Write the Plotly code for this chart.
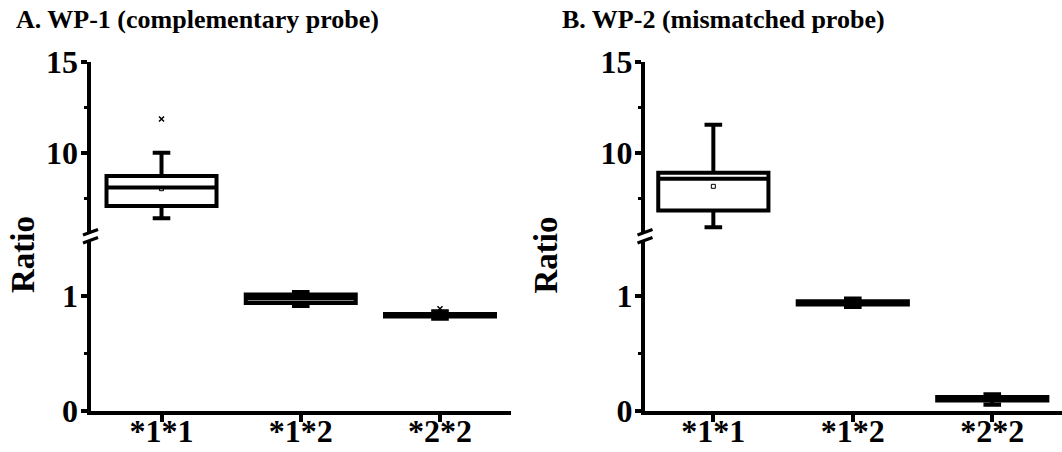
import plotly.graph_objects as go

W, H = 1062, 452

CATS = ["*1*1", "*1*2", "*2*2"]

# Panel A: WP-1 (complementary probe)
A_LO = [6.39, 0.913, 0.802]
A_Q1 = [7.07, 0.939, 0.821]
A_MED = [8.09, 0.978, 0.832]
A_Q3 = [8.72, 1.013, 0.843]
A_HI = [10.0, 1.035, 0.866]
A_MEAN_X = ["*1*1"]
A_MEAN_Y = [8.02]
A_OUT_X = ["*1*1", "*2*2"]
A_OUT_Y = [11.85, 0.889]

# Panel B: WP-2 (mismatched probe)
B_LO = [5.90, 0.904, 0.051]
B_Q1 = [6.82, 0.925, 0.087]
B_MED = [8.57, 0.940, 0.103]
B_Q3 = [8.90, 0.955, 0.118]
B_HI = [11.54, 0.978, 0.141]
B_MEAN_X = ["*1*1"]
B_MEAN_Y = [8.15]

LOWER_RANGE = [0, 1.524]
UPPER_RANGE = [5.42, 15]
LOWER_TICKS = [0, 1]
LOWER_MINOR = [0.5]
UPPER_TICKS = [10, 15]
UPPER_MINOR = [7.5, 12.5]

TITLES = ["A. WP-1 (complementary probe)", "B. WP-2 (mismatched probe)"]

FONT = "Liberation Serif, Times New Roman, serif"


def px_x(p):
    return p / W


def px_y(p):
    return 1 - p / H


fig = go.Figure()

panels = [
    dict(x="x", ylo="y", yhi="y2", lo=A_LO, q1=A_Q1, med=A_MED, q3=A_Q3, hi=A_HI,
         mx=A_MEAN_X, my=A_MEAN_Y, ox=A_OUT_X, oy=A_OUT_Y),
    dict(x="x2", ylo="y3", yhi="y4", lo=B_LO, q1=B_Q1, med=B_MED, q3=B_Q3, hi=B_HI,
         mx=B_MEAN_X, my=B_MEAN_Y, ox=[], oy=[]),
]

for p in panels:
    for i, c in enumerate(CATS):
        ya = p["yhi"] if p["med"][i] > LOWER_RANGE[1] else p["ylo"]
        fig.add_trace(go.Box(
            x=[c], q1=[p["q1"][i]], median=[p["med"][i]], q3=[p["q3"][i]],
            lowerfence=[p["lo"][i]], upperfence=[p["hi"][i]],
            xaxis=p["x"], yaxis=ya, width=0.79, whiskerwidth=0.16,
            fillcolor="rgba(255,255,255,0)", line=dict(color="black", width=4),
            boxpoints=False, showlegend=False, hoverinfo="skip",
        ))
    for xv, yv in zip(p["mx"], p["my"]):
        ya = p["yhi"] if yv > LOWER_RANGE[1] else p["ylo"]
        fig.add_trace(go.Scatter(
            x=[xv], y=[yv], xaxis=p["x"], yaxis=ya, mode="markers",
            marker=dict(symbol="square-open", size=4, color="black", line=dict(width=1)),
            showlegend=False, hoverinfo="skip"))
    for xv, yv in zip(p["ox"], p["oy"]):
        ya = p["yhi"] if yv > LOWER_RANGE[1] else p["ylo"]
        fig.add_trace(go.Scatter(
            x=[xv], y=[yv], xaxis=p["x"], yaxis=ya, mode="markers",
            marker=dict(symbol="x-thin-open", size=5, color="black", line=dict(width=1.5, color="black")),
            showlegend=False, hoverinfo="skip"))

tickfont = dict(family=FONT, size=32, color="black", weight="bold")

common_x = dict(type="category", categoryorder="array", categoryarray=CATS,
                showline=True, linewidth=4, linecolor="black", ticks="outside",
                ticklen=7, tickwidth=4, tickcolor="black", tickfont=tickfont,
                ticklabelstandoff=-18,
                showgrid=False, zeroline=False, fixedrange=True, automargin=False)
common_y = dict(showline=True, linewidth=4, linecolor="black", ticks="outside",
                ticklen=6, tickwidth=4, tickcolor="black", tickfont=tickfont,
                ticklabelstandoff=-4,
                showgrid=False, zeroline=False, fixedrange=True, automargin=False)

Y_TOP, Y_BRK, Y_BOT = 61.7, 236.0, 410.5
AX_A, AX_A_END = 90.5, 511.0
AX_B, AX_B_END = 645.0, 1062.0

def yax(rng, ticks, minor, dom, anchor):
    d = dict(common_y)
    d.update(range=rng, tickvals=ticks, ticktext=[str(t) for t in ticks],
             minor=dict(tickvals=minor, ticks="outside", ticklen=3, tickwidth=3, tickcolor="black"),
             domain=dom, anchor=anchor)
    return d

fig.update_layout(
    template="none",
    width=W, height=H, autosize=False,
    margin=dict(l=0, r=0, t=0, b=0, pad=0),
    paper_bgcolor="white", plot_bgcolor="rgba(0,0,0,0)",
    showlegend=False,
    xaxis=dict(common_x, domain=[px_x(AX_A), px_x(AX_A_END)], range=[-0.51, 2.51], anchor="y"),
    xaxis2=dict(common_x, domain=[px_x(AX_B), 1.0], range=[-0.49, 2.5], anchor="y3"),
    yaxis=yax(LOWER_RANGE, LOWER_TICKS, LOWER_MINOR, [px_y(Y_BOT), px_y(Y_BRK)], "x"),
    yaxis2=yax(UPPER_RANGE, UPPER_TICKS, UPPER_MINOR, [px_y(Y_BRK), px_y(Y_TOP)], "x"),
    yaxis3=yax(LOWER_RANGE, LOWER_TICKS, LOWER_MINOR, [px_y(Y_BOT), px_y(Y_BRK)], "x2"),
    yaxis4=yax(UPPER_RANGE, UPPER_TICKS, UPPER_MINOR, [px_y(Y_BRK), px_y(Y_TOP)], "x2"),
)

# titles and axis labels
for tx, t in zip([14, 560], TITLES):
    fig.add_annotation(text=t, x=px_x(tx), y=px_y(19), xref="paper", yref="paper",
                       xanchor="left", yanchor="middle", showarrow=False,
                       font=dict(family=FONT, size=26, color="black", weight="bold"))
for rx in [23, 545.5]:
    fig.add_annotation(text="Ratio", x=px_x(rx), y=px_y(255), xref="paper", yref="paper",
                       xanchor="center", yanchor="middle", textangle=-90, showarrow=False,
                       font=dict(family=FONT, size=33, color="black", weight="bold"))

# axis break marks
def brk(ax):
    shapes = []
    l1 = [(ax - 7.5, 235.0), (ax + 7.5, 229.5)]
    l2 = [(ax - 7.5, 243.0), (ax + 7.5, 237.5)]
    poly = "M {} {} L {} {} L {} {} L {} {} Z".format(
        px_x(ax - 4), px_y(233.5), px_x(ax + 4), px_y(230.6),
        px_x(ax + 4), px_y(238.6), px_x(ax - 4), px_y(241.5))
    shapes.append(dict(type="path", path=poly, xref="paper", yref="paper",
                       fillcolor="white", line=dict(width=0), layer="above"))
    for (a, b) in [l1, l2]:
        shapes.append(dict(type="line", xref="paper", yref="paper",
                           x0=px_x(a[0]), y0=px_y(a[1]), x1=px_x(b[0]), y1=px_y(b[1]),
                           line=dict(color="black", width=3), layer="above"))
    return shapes

fig.update_layout(shapes=brk(AX_A) + brk(AX_B))

fig.write_html("out.html", config={"displayModeBar": False},
               post_script="document.body.style.margin='0';document.body.style.overflow='hidden';")
